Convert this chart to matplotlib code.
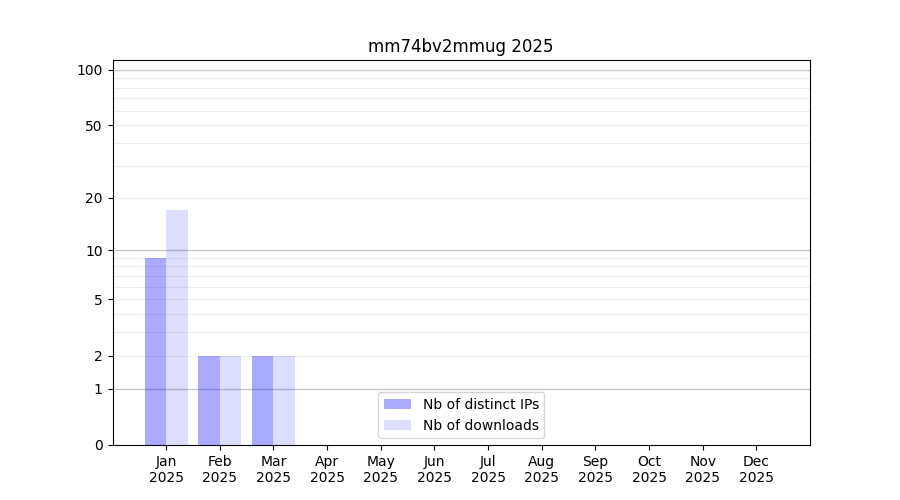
import numpy as np
import matplotlib
matplotlib.use("Agg")
import matplotlib.pyplot as plt

months = ["Jan", "Feb", "Mar", "Apr", "May", "Jun",
          "Jul", "Aug", "Sep", "Oct", "Nov", "Dec"]
year = 2025
distinct_ips = [9, 2, 2, 0, 0, 0, 0, 0, 0, 0, 0, 0]
downloads = [17, 2, 2, 0, 0, 0, 0, 0, 0, 0, 0, 0]


def fwd(y):
    return np.log10(1 + np.clip(y, 0, None))


def inv(y):
    return 10 ** y - 1


fig, ax = plt.subplots(figsize=(9, 5), dpi=100)
x = np.arange(len(months))
ax.bar(x, distinct_ips, width=-0.4, align="edge", color="blue", alpha=1/3,
       label="Nb of distinct IPs", zorder=2)
ax.bar(x, downloads, width=0.4, align="edge", color="blue", alpha=2/15,
       label="Nb of downloads", zorder=2)

ax.set_yscale("function", functions=(fwd, inv))
ax.set_ylim(0, 113)
ax.set_yticks([0, 1, 2, 5, 10, 20, 50, 100])
ax.set_yticklabels(["0", "1", "2", "5", "10", "20", "50", "100"])
minor = [v * d for d in (1, 10) for v in range(2, 10)]
ax.set_yticks(minor, minor=True)
ax.tick_params(axis="y", which="minor", length=0)
for v in [1, 10, 100]:
    ax.axhline(v, color="#c8c8c8", linewidth=1, zorder=1)
for v in minor:
    ax.axhline(v, color="#eeeeee", linewidth=0.8, zorder=1)

ax.set_xticks(x)
ax.set_xticklabels([f"{m}\n{year}" for m in months])
ax.set_xlim(-1, 12)
ax.set_title(f"mm74bv2mmug {year}")
ax.legend(loc="lower center")

plt.savefig("out.png")
